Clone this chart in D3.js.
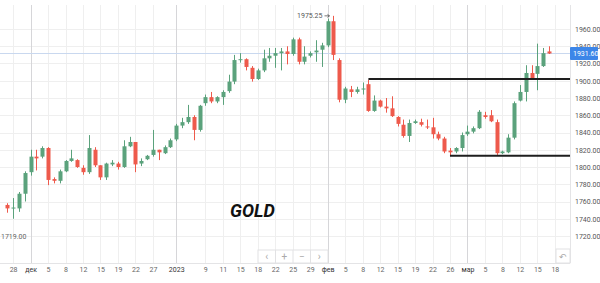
<!DOCTYPE html>
<html>
<head>
<meta charset="utf-8">
<script src="https://cdn.jsdelivr.net/npm/d3@7"></script>
<style>
  body { margin: 0; background: #fff; }
  svg { display: block; font-family: Roboto, sans-serif; }
</style>
</head>
<body>
<div id="chart"></div>
<script>
// daily OHLC (candle index 0..93)
const opens  = [1756,1752,1752,1769,1794,1812,1812,1822,1786,1784,1795,1807,1808,1799,1794,1820,1802,1788,1803,1804,1800,1824,1829,1804,1809,
                1814,1820,1816,1823,1832,1848,1852,1858,1843,1874,1881,1876,1881,1888,1899,1924,1925,1915,1902,
                1912,1926,1929,1932,1934,1931,1948,1922,1929,1933,1936,1941,1969,1924,1878,1890,1887,1890,1896,
                1865,1877,1870,1868,1858,1849,1836,1851,1852,1847,1846,1838,1833,1819,1818,1822,1838,1841,
                1845,1860,1860,1852,1816,1817,1834,1877,1887,1909,1908,1917,1934];
const highs  = [1758,1764,1771,1795,1820,1820,1824,1823,1788,1797,1808,1820,1809,1802,1837,1823,1802,1805,1808,1806,1831,1835,1829,1810,1814,
                1843,1820,1825,1833,1850,1857,1872,1860,1872,1884,1887,1882,1889,1907,1930,1932,1926,1917,1914,
                1936,1938,1938,1938,1940,1950,1950,1940,1934,1947,1944,1972,1975.25,1926,1893,1894,1893,1898,1901,
                1883,1878,1880,1882,1859,1855,1855,1855,1856,1855,1857,1841,1835,1822,1823,1840,1848,1847,
                1866,1864,1866,1855,1819,1838,1876,1895,1918,1918,1943,1938,1940];
const lows   = [1747,1740,1748,1760,1790,1796,1810,1779,1781,1781,1794,1806,1799,1791,1792,1800,1785,1785,1801,1797,1799,1823,1794,1801,1808,
                1812,1808,1815,1822,1830,1845,1850,1831,1841,1871,1874,1874,1872,1886,1896,1921,1912,1899,1901,
                1910,1922,1915,1912,1919,1929,1919,1919,1927,1922,1916,1939,1924,1875,1874,1881,1885,1884,1864,
                1864,1869,1863,1858,1847,1834,1829,1850,1847,1844,1833,1831,1816,1813,1816,1818,1836,1839,
                1844,1856,1852,1814,1815,1816,1832,1876,1876,1901,1889,1916,1931];
const closes = [1752,1753,1769,1793,1812,1810,1822,1785,1784,1795,1807,1810,1800,1794,1822,1802,1788,1804,1805,1800,1824,1829,1803,1807,1813,
                1820,1817,1823,1831,1848,1852,1858,1843,1871,1881,1876,1881,1887,1899,1924,1925,1916,1902,1912,
                1926,1929,1932,1934,1931,1948,1922,1928,1932,1935,1941,1969,1930,1878,1891,1887,1890,1891,1865,
                1877,1870,1868,1859,1850,1836,1851,1853,1849,1846,1838,1833,1818,1817,1822,1837,1841,1845,
                1864,1858,1853,1816,1818,1834,1874,1887,1909,1903,1917,1932,1931.6];

// time axis: candle index of each label
const tickIndex  = [1,4,7,10,13,16,19,22,25,29,34,37,40,43,46,49,52,55,58,61,64,67,70,73,76,79,82,85,88,91,94];
const tickLabels = ["28","дек","5","8","12","15","19","22","27","2023","9","11","15","18","22","25","29",
                    "фев","5","8","12","15","19","22","26","мар","5","8","12","15","18"];
const monthLabels = ["дек","2023","фев","мар"];

const priceTicks = d3.range(1720, 1961, 20);

// horizontal levels drawn on the chart
const levelPrices = [1902, 1813];
const levelStart  = [62, 76];

const lastPrice = 1931.6;
const lowMarker = 1719;

const W = 600, H = 283;
const plotRight = 570, plotBottom = 263, plotTop = 5;
const green = "#5ba27c", red = "#ee5a4c";

const svg = d3.select("#chart").append("svg")
    .attr("width", W)
    .attr("height", H);

svg.append("rect").attr("width", W).attr("height", H).attr("fill", "#fff");

const x = d3.scaleLinear().domain([0, 93]).range([7.3, 549]);
const y = d3.scaleLinear().domain([1720, 1960]).range([236, 29]);

// grid
svg.append("g").selectAll("line")
    .data(priceTicks)
    .join("line")
    .attr("x1", 0).attr("x2", plotRight)
    .attr("y1", d => Math.round(y(d)) + 0.5).attr("y2", d => Math.round(y(d)) + 0.5)
    .attr("stroke", "#efefef");

svg.append("g").selectAll("line")
    .data(tickIndex)
    .join("line")
    .attr("x1", d => Math.round(x(d)) + 0.5).attr("x2", d => Math.round(x(d)) + 0.5)
    .attr("y1", plotTop).attr("y2", plotBottom)
    .attr("stroke", (d, i) => monthLabels.includes(tickLabels[i]) ? "#d6d6d9" : "#efefef");

// borders
svg.append("line")
    .attr("x1", plotRight + 0.5).attr("x2", plotRight + 0.5)
    .attr("y1", plotTop).attr("y2", plotBottom)
    .attr("stroke", "#e4e4e6");
svg.append("line")
    .attr("x1", 0).attr("x2", plotRight)
    .attr("y1", plotBottom + 0.5).attr("y2", plotBottom + 0.5)
    .attr("stroke", "#e4e4e6");

// last price line
svg.append("line")
    .attr("x1", 0).attr("x2", plotRight)
    .attr("y1", y(lastPrice)).attr("y2", y(lastPrice))
    .attr("stroke", "#c9d8ef");

// candles
const idx = d3.range(opens.length);
const candle = svg.append("g").selectAll("g")
    .data(idx)
    .join("g")
    .attr("fill", i => closes[i] >= opens[i] ? green : red)
    .attr("stroke", i => closes[i] >= opens[i] ? green : red);

candle.append("line")
    .attr("x1", i => Math.round(x(i)) + 0.5).attr("x2", i => Math.round(x(i)) + 0.5)
    .attr("y1", i => y(highs[i])).attr("y2", i => y(lows[i]));

candle.append("rect")
    .attr("stroke", "none")
    .attr("x", i => Math.round(x(i)) - 1.5)
    .attr("width", 4)
    .attr("y", i => y(Math.max(opens[i], closes[i])))
    .attr("height", i => Math.max(1, Math.abs(y(opens[i]) - y(closes[i]))));

// support / resistance levels
svg.append("g").selectAll("line")
    .data(levelPrices)
    .join("line")
    .attr("x1", (d, i) => x(levelStart[i]))
    .attr("x2", plotRight)
    .attr("y1", d => y(d)).attr("y2", d => y(d))
    .attr("stroke", "#1e1e1e")
    .attr("stroke-width", 2);

// max / min markers
const maxI = d3.maxIndex(highs);
const mx = x(maxI), my = y(highs[maxI]);
svg.append("text")
    .attr("x", mx - 11)
    .attr("y", my + 2.5)
    .attr("text-anchor", "end")
    .attr("font-size", 7)
    .attr("fill", "#555")
    .text(highs[maxI].toFixed(2));
svg.append("path")
    .attr("d", `M${mx - 9},${my}H${mx - 4}M${mx - 6},${my - 1.5}L${mx - 4},${my}L${mx - 6},${my + 1.5}`)
    .attr("fill", "none")
    .attr("stroke", "#555")
    .attr("stroke-width", 0.8);

svg.append("text")
    .attr("x", 1)
    .attr("y", y(lowMarker) + 2.5)
    .attr("font-size", 7)
    .attr("fill", "#666")
    .text(lowMarker.toFixed(2));

// price axis
const yAxis = svg.append("g")
    .attr("transform", `translate(${plotRight + 2},0)`)
    .call(d3.axisRight(y).tickValues(priceTicks).tickSize(0).tickFormat(d => d.toFixed(2)));
yAxis.select(".domain").remove();
yAxis.selectAll("text")
    .attr("font-family", "Roboto, sans-serif")
    .attr("font-size", 7)
    .attr("fill", "#555");

// last price tag
const tag = svg.append("g").attr("transform", `translate(${plotRight},${y(lastPrice)})`);
tag.append("rect")
    .attr("x", 0).attr("y", -6.5)
    .attr("width", 28).attr("height", 13)
    .attr("rx", 1)
    .attr("fill", "#3d86e8");
tag.append("text")
    .attr("x", 3).attr("y", 2.5)
    .attr("font-size", 7)
    .attr("fill", "#fff")
    .text(lastPrice.toFixed(2));

// time axis
const xAxis = svg.append("g")
    .attr("transform", `translate(0,${plotBottom})`)
    .call(d3.axisBottom(x).tickValues(tickIndex).tickSize(0).tickPadding(4)
        .tickFormat((d, i) => tickLabels[i]));
xAxis.select(".domain").remove();
xAxis.selectAll("text")
    .attr("font-family", "Roboto, sans-serif")
    .attr("font-size", 7)
    .attr("fill", (d, i) => monthLabels.includes(tickLabels[i]) ? "#333" : "#666");

// navigation buttons
const navX = 258, navY = 250, cell = 17.5;
const navGlyphs = ["\u2039", "+", "\u2212", "\u203A"];
const nav = svg.append("g").attr("transform", `translate(${navX},${navY})`);
nav.append("rect")
    .attr("width", cell * 4).attr("height", 13)
    .attr("fill", "#fff").attr("stroke", "#e2e2e4");
nav.selectAll("line")
    .data([1, 2, 3])
    .join("line")
    .attr("x1", d => d * cell).attr("x2", d => d * cell)
    .attr("y1", 0).attr("y2", 13)
    .attr("stroke", "#e2e2e4");
nav.selectAll("text")
    .data(navGlyphs)
    .join("text")
    .attr("x", (d, i) => i * cell + cell / 2)
    .attr("y", 10)
    .attr("text-anchor", "middle")
    .attr("font-size", 10)
    .attr("fill", "#aaa")
    .text(d => d);

const reset = svg.append("g").attr("transform", `translate(556,249)`);
reset.append("rect")
    .attr("width", 14).attr("height", 14)
    .attr("fill", "#fff").attr("stroke", "#e2e2e4");
reset.append("text")
    .attr("x", 7).attr("y", 10.5)
    .attr("text-anchor", "middle")
    .attr("font-size", 9)
    .attr("fill", "#aaa")
    .text("\u21B6");

// title
svg.append("text")
    .attr("x", 230)
    .attr("y", 217)
    .attr("font-size", 18)
    .attr("font-weight", "bold")
    .attr("font-style", "italic")
    .attr("fill", "#111")
    .text("GOLD");
</script>
</body>
</html>
